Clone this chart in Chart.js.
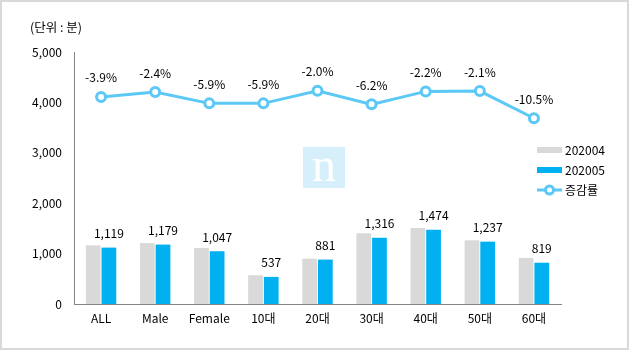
<!DOCTYPE html>
<html><head><meta charset="utf-8">
<script src="https://cdn.jsdelivr.net/npm/chart.js@4.4.1/dist/chart.umd.min.js"></script>
<style>
html,body{margin:0;padding:0;background:#fff;}
#wrap{position:relative;width:630px;height:352px;}
canvas{display:block;}
</style></head>
<body><div id="wrap"><canvas id="c" width="630" height="352"></canvas></div>
<script>
const categories = ['ALL','Male','Female','10대','20대','30대','40대','50대','60대'];
const series202004 = [1164,1208,1113,571,899,1403,1507,1264,915];
const series202005 = [1119,1179,1047,537,881,1316,1474,1237,819];
const changeRate = [-3.9,-2.4,-5.9,-5.9,-2.0,-6.2,-2.2,-2.1,-10.5];
const yTicks = [0,1000,2000,3000,4000,5000];
const unitTitle = '(단위 : 분)';
const seriesNames = ['202004','202005','증감률'];

const FONT = "'Noto Sans CJK KR','Noto Sans',sans-serif";
const GRAY = '#d9d9d9', BLUE = '#00b0f0', LINE = '#5bc8f5';

const overlay = {
  id:'overlay',
  beforeDatasetsDraw(chart){
    const ctx = chart.ctx;
    ctx.save();
    ctx.fillStyle = '#d7effb';
    ctx.fillRect(303,147,42,41);
    ctx.fillStyle = '#ffffff';
    ctx.font = "48px 'Liberation Serif', serif";
    ctx.textAlign = 'center'; ctx.textBaseline = 'alphabetic';
    ctx.fillText('n',324,181);
    ctx.restore();
  },
  afterDraw(chart){
    const ctx = chart.ctx;
    ctx.save();
    ctx.strokeStyle = '#d9d9d9'; ctx.lineWidth = 2;
    ctx.strokeRect(1,1,627,348);
    ctx.fillStyle = '#000'; ctx.font = '12.5px ' + FONT;
    ctx.textAlign = 'left'; ctx.textBaseline = 'middle';
    ctx.fillText(unitTitle, 30, 27);
    ctx.font = '12px ' + FONT;
    const m1 = chart.getDatasetMeta(1);
    ctx.textAlign = 'center';
    m1.data.forEach((b,i)=>{
      ctx.fillText(series202005[i].toLocaleString('en-US'), b.x, b.y - 14);
    });
    const m2 = chart.getDatasetMeta(2);
    m2.data.forEach((p,i)=>{
      ctx.fillText(changeRate[i].toFixed(1)+'%', p.x, p.y - 19);
    });
    const lx = 537, tx = 565;
    ctx.textAlign = 'left';
    ctx.fillStyle = GRAY; ctx.fillRect(lx,147,25,6);
    ctx.fillStyle = BLUE; ctx.fillRect(lx,167,25,6);
    ctx.fillStyle = '#000';
    ctx.fillText(seriesNames[0], tx, 150);
    ctx.fillText(seriesNames[1], tx, 170);
    ctx.strokeStyle = LINE; ctx.lineWidth = 3;
    ctx.beginPath(); ctx.moveTo(lx,190); ctx.lineTo(lx+25,190); ctx.stroke();
    ctx.fillStyle = '#fff';
    ctx.beginPath(); ctx.arc(lx+12.5,190,4,0,Math.PI*2); ctx.fill(); ctx.stroke();
    ctx.fillStyle = '#000';
    ctx.fillText(seriesNames[2], tx, 190);
    ctx.restore();
  }
};

new Chart(document.getElementById('c'), {
  data:{
    labels: categories,
    datasets:[
      {type:'bar', label:seriesNames[0], data:series202004, backgroundColor:GRAY, yAxisID:'y', order:2, barPercentage:0.94, categoryPercentage:0.58},
      {type:'bar', label:seriesNames[1], data:series202005, backgroundColor:BLUE, yAxisID:'y', order:2, barPercentage:0.94, categoryPercentage:0.58},
      {type:'line', label:seriesNames[2], data:changeRate, yAxisID:'y1', order:1, borderColor:LINE, borderWidth:3,
       pointRadius:4.5, pointBorderWidth:3, pointBackgroundColor:'#fff', pointBorderColor:LINE, tension:0}
    ]
  },
  options:{
    responsive:false, animation:false, devicePixelRatio:1,
    layout:{padding:{left:0, right:69, top:52, bottom:0}},
    plugins:{legend:{display:false}, tooltip:{enabled:false}},
    scales:{
      x:{
        grid:{display:false, drawTicks:false},
        border:{color:'#868686', width:1},
        ticks:{color:'#000', font:{size:12, family:FONT}, padding:7},
        afterFit(s){ s.height = 48; }
      },
      y:{
        min:0, max:5000,
        afterBuildTicks(s){ s.ticks = yTicks.map(v=>({value:v})); },
        grid:{display:false, drawTicks:false},
        border:{color:'#868686', width:1},
        ticks:{color:'#000', font:{size:12, family:FONT}, padding:12,
          callback:v=>v.toLocaleString('en-US')},
        afterFit(s){ s.width = 74; }
      },
      y1:{ display:false, min:-68, max:10 }
    }
  },
  plugins:[overlay]
});
</script></body></html>
